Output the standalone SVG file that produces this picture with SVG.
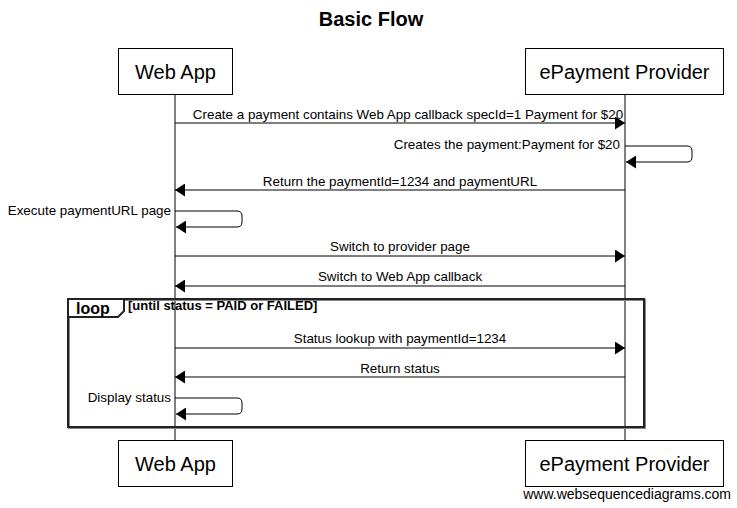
<svg xmlns="http://www.w3.org/2000/svg" width="737" height="508" viewBox="0 0 737 508">
<defs>
<style>
text{font-family:"Liberation Sans",Arial,sans-serif;fill:#000}
.title{font-size:20px;font-weight:bold}
.part{font-size:20px}
.msg{font-size:13.4px}
.box{fill:#fff;stroke:#000;stroke-width:1}
.life{stroke:#000;stroke-width:1}
.line{fill:none;stroke:#000;stroke-width:1}
.frame{fill:none;stroke:#222;stroke-width:2}
</style>
<marker id="ah" viewBox="0 0 10 13" refX="10" refY="6.5" markerWidth="10" markerHeight="13" markerUnits="userSpaceOnUse" orient="auto">
<path d="M0,0 L10,6.5 L0,13 Z" fill="#000"/>
</marker>
</defs>
<rect width="737" height="508" fill="#fff"/>
<text class="title" x="371" y="26" text-anchor="middle">Basic Flow</text>

<g id="lifelines">
<line class="life" x1="175" y1="95" x2="175" y2="440"/>
<line class="life" x1="625" y1="95" x2="625" y2="440"/>
</g>

<g id="loop">
<rect x="69" y="300" width="576" height="128" fill="none" stroke="#888" stroke-width="2"/>
<rect class="frame" x="68" y="299" width="576" height="128"/>
<path d="M68,299 H124 V311 L118,317 H68 Z" fill="#fff" stroke="#222" stroke-width="2"/>
<text x="76" y="314" style="font-size:16px;font-weight:bold">loop</text>
<text class="msg" x="128" y="310" style="font-weight:bold;font-size:13px">[until status = PAID or FAILED]</text>
</g>

<g id="connectors">
<line class="line" x1="175" y1="123" x2="625" y2="123" marker-end="url(#ah)"/>
<text class="msg" x="408" y="119" text-anchor="middle">Create a payment contains Web App callback specId=1 Payment for $20</text>

<path class="line" d="M625,146 H687 Q692,146 692,151 V157 Q692,162 687,162 H626" marker-end="url(#ah)"/>
<text class="msg" x="620" y="149" text-anchor="end">Creates the payment:Payment for $20</text>

<line class="line" x1="625" y1="190" x2="175" y2="190" marker-end="url(#ah)"/>
<text class="msg" x="400" y="186" text-anchor="middle">Return the paymentId=1234 and paymentURL</text>

<path class="line" d="M175,211 H237 Q242,211 242,216 V222 Q242,227 237,227 H176" marker-end="url(#ah)"/>
<text class="msg" x="171" y="215" text-anchor="end">Execute paymentURL page</text>

<line class="line" x1="175" y1="256" x2="625" y2="256" marker-end="url(#ah)"/>
<text class="msg" x="400" y="251" text-anchor="middle">Switch to provider page</text>

<line class="line" x1="625" y1="286" x2="175" y2="286" marker-end="url(#ah)"/>
<text class="msg" x="400" y="281" text-anchor="middle">Switch to Web App callback</text>

<line class="line" x1="175" y1="348" x2="625" y2="348" marker-end="url(#ah)"/>
<text class="msg" x="400" y="343" text-anchor="middle">Status lookup with paymentId=1234</text>

<line class="line" x1="625" y1="377" x2="175" y2="377" marker-end="url(#ah)"/>
<text class="msg" x="400" y="373" text-anchor="middle">Return status</text>

<path class="line" d="M175,398 H237 Q242,398 242,403 V409 Q242,414 237,414 H176" marker-end="url(#ah)"/>
<text class="msg" x="171" y="402" text-anchor="end">Display status</text>
</g>

<g id="webapp-top">
<rect class="box" x="118.5" y="48.5" width="114" height="46"/>
<text class="part" x="175.5" y="79" text-anchor="middle">Web App</text>
</g>
<g id="epay-top">
<rect class="box" x="525.5" y="48.5" width="198" height="46"/>
<text class="part" x="624.5" y="79" text-anchor="middle">ePayment Provider</text>
</g>
<g id="webapp-bottom">
<rect class="box" x="118.5" y="440.5" width="114" height="46"/>
<text class="part" x="175.5" y="471" text-anchor="middle">Web App</text>
</g>
<g id="epay-bottom">
<rect class="box" x="525.5" y="440.5" width="198" height="46"/>
<text class="part" x="624.5" y="471" text-anchor="middle">ePayment Provider</text>
</g>

<text x="731" y="499" text-anchor="end" style="font-size:14px">www.websequencediagrams.com</text>
</svg>
